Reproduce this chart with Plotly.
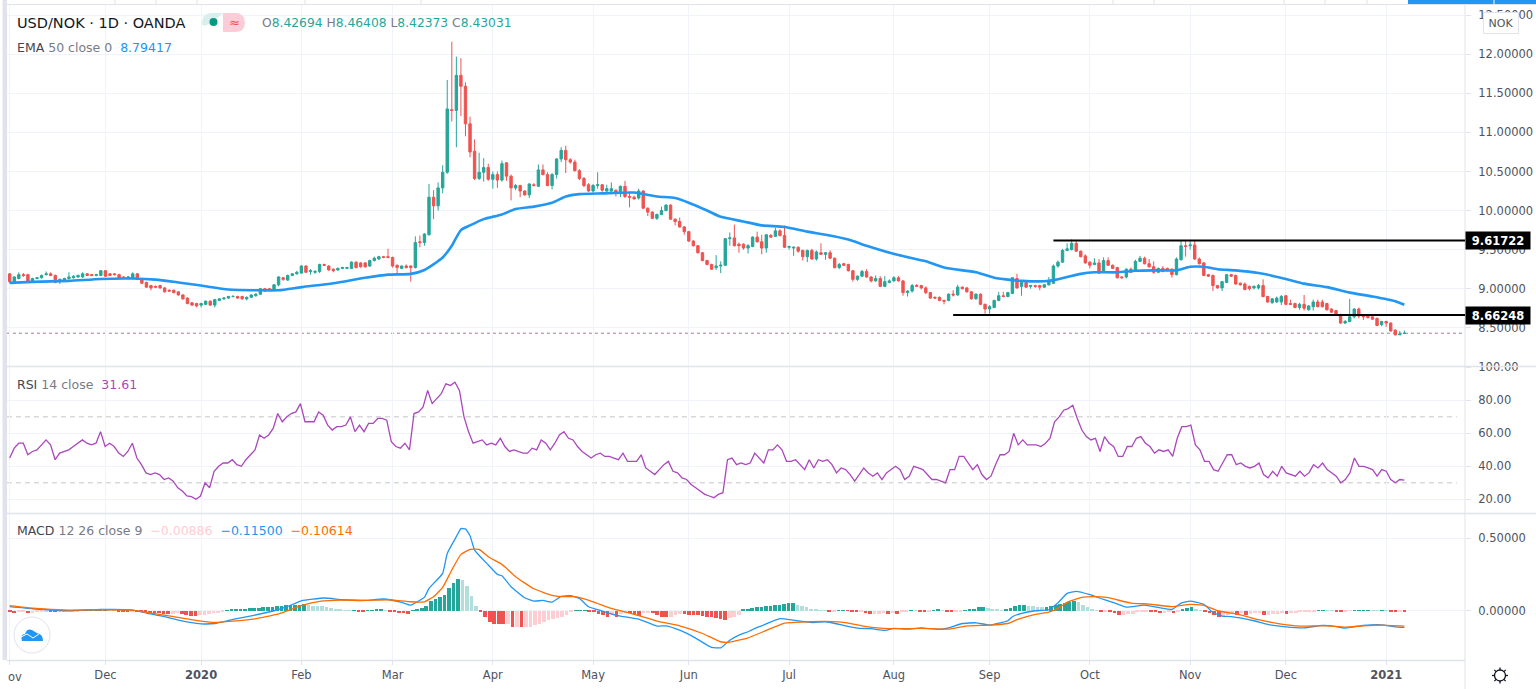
import numpy as np
import plotly.graph_objects as go

W, H = 1536, 689
FONT = "DejaVu Sans"

opens = [9.19,9.07,9.13,9.18,9.18,9.10,9.13,9.14,9.18,9.19,
9.17,9.09,9.11,9.13,9.14,9.15,9.15,9.19,9.18,9.17,
9.17,9.23,9.19,9.19,9.18,9.15,9.14,9.13,9.19,9.12,
9.08,9.04,9.03,9.04,9.01,8.98,8.98,8.96,8.92,8.88,
8.82,8.81,8.79,8.80,8.84,8.79,8.85,8.87,8.88,8.90,
8.90,8.90,8.87,8.89,8.91,8.93,9.00,9.00,8.98,9.05,
9.14,9.11,9.17,9.19,9.20,9.29,9.22,9.21,9.22,9.31,
9.29,9.25,9.24,9.26,9.26,9.26,9.34,9.33,9.33,9.29,
9.36,9.38,9.41,9.41,9.40,9.30,9.26,9.29,9.29,9.27,
9.60,9.59,9.69,10.17,10.06,10.29,10.49,11.29,11.28,11.73,
11.59,11.11,10.76,10.41,10.49,10.55,10.40,10.46,10.39,10.61,
10.44,10.29,10.32,10.25,10.20,10.33,10.31,10.52,10.46,10.32,
10.46,10.66,10.77,10.65,10.62,10.51,10.41,10.33,10.25,10.32,
10.33,10.25,10.25,10.26,10.22,10.31,10.18,10.17,10.16,10.25,
10.03,9.98,9.90,9.95,10.00,10.07,9.89,9.86,9.79,9.73,
9.61,9.55,9.46,9.36,9.31,9.27,9.29,9.30,9.64,9.65,
9.57,9.57,9.52,9.54,9.66,9.60,9.52,9.68,9.67,9.74,
9.68,9.53,9.52,9.53,9.49,9.41,9.49,9.38,9.46,9.44,
9.46,9.39,9.27,9.32,9.31,9.23,9.12,9.16,9.22,9.15,
9.10,9.13,9.03,9.08,9.10,9.14,9.10,8.95,8.97,9.04,
9.04,9.01,8.95,8.89,8.89,8.85,8.85,8.93,8.92,9.02,
9.01,8.96,8.87,8.93,8.80,8.74,8.76,8.85,8.91,8.90,
8.94,9.13,9.03,9.08,9.03,9.04,9.04,9.02,9.05,9.07,
9.29,9.34,9.49,9.50,9.58,9.48,9.42,9.34,9.31,9.33,
9.21,9.36,9.30,9.27,9.15,9.15,9.25,9.24,9.35,9.39,
9.32,9.28,9.21,9.26,9.26,9.25,9.18,9.37,9.55,9.55,
9.56,9.38,9.33,9.18,9.17,9.04,9.01,9.08,9.18,9.17,
9.07,9.06,9.03,9.01,9.01,9.04,8.90,8.82,8.83,8.83,
8.91,8.81,8.81,8.76,8.80,8.73,8.77,8.83,8.83,8.81,
8.74,8.72,8.67,8.56,8.58,8.64,8.74,8.66,8.65,8.64,
8.62,8.54,8.58,8.56,8.47,8.41,8.42694]

highs = [9.20,9.16,9.21,9.20,9.19,9.14,9.15,9.18,9.22,9.21,
9.18,9.13,9.14,9.21,9.17,9.18,9.21,9.20,9.19,9.19,
9.24,9.24,9.20,9.20,9.19,9.16,9.16,9.21,9.20,9.13,
9.09,9.05,9.04,9.05,9.02,8.99,8.99,8.97,8.93,8.89,
8.83,8.82,8.82,8.85,8.85,8.87,8.88,8.89,8.91,8.92,
8.91,8.91,8.90,8.93,8.94,9.01,9.01,9.01,9.06,9.16,
9.15,9.18,9.20,9.23,9.30,9.30,9.25,9.24,9.32,9.32,
9.30,9.26,9.27,9.28,9.28,9.35,9.35,9.34,9.34,9.37,
9.41,9.42,9.42,9.51,9.41,9.31,9.30,9.31,9.30,9.67,
9.68,9.71,10.34,10.26,10.36,10.58,11.67,12.16,11.97,11.95,
11.64,11.20,10.91,10.74,10.67,10.60,10.50,10.50,10.64,10.62,
10.46,10.34,10.33,10.26,10.35,10.35,10.59,10.59,10.49,10.48,
10.67,10.81,10.83,10.67,10.65,10.53,10.43,10.35,10.34,10.49,
10.34,10.33,10.36,10.27,10.32,10.38,10.24,10.19,10.28,10.26,
10.04,9.99,9.96,10.05,10.08,10.08,9.90,9.91,9.80,9.74,
9.62,9.56,9.47,9.37,9.32,9.43,9.35,9.65,9.72,9.82,
9.59,9.58,9.57,9.67,9.73,9.69,9.70,9.70,9.78,9.76,
9.81,9.55,9.54,9.54,9.50,9.50,9.51,9.49,9.58,9.47,
9.49,9.40,9.33,9.33,9.32,9.24,9.17,9.24,9.25,9.16,
9.17,9.16,9.16,9.12,9.16,9.16,9.11,8.98,9.06,9.06,
9.05,9.03,8.96,8.90,8.90,8.86,8.94,8.98,9.05,9.03,
9.02,8.97,8.94,8.94,8.81,8.79,8.86,8.96,8.96,8.96,
9.15,9.19,9.09,9.09,9.05,9.05,9.05,9.06,9.15,9.31,
9.36,9.51,9.58,9.63,9.62,9.49,9.44,9.35,9.39,9.38,
9.40,9.40,9.31,9.28,9.16,9.26,9.27,9.37,9.42,9.41,
9.38,9.35,9.27,9.29,9.27,9.26,9.40,9.62,9.62,9.62,
9.62,9.40,9.34,9.19,9.18,9.05,9.10,9.19,9.19,9.18,
9.08,9.08,9.04,9.04,9.06,9.12,8.91,8.88,8.90,8.92,
8.92,8.86,8.82,8.82,8.92,8.79,8.86,8.86,8.86,8.82,
8.75,8.73,8.68,8.60,8.87,8.75,8.76,8.67,8.67,8.65,
8.63,8.59,8.59,8.57,8.48,8.46,8.46408]

lows = [9.07,9.06,9.12,9.15,9.08,9.09,9.12,9.13,9.17,9.16,
9.07,9.06,9.10,9.12,9.13,9.14,9.14,9.16,9.16,9.16,
9.16,9.15,9.16,9.17,9.13,9.13,9.13,9.12,9.11,9.06,
9.01,8.98,9.01,9.00,8.95,8.96,8.94,8.91,8.86,8.80,
8.78,8.76,8.76,8.79,8.78,8.76,8.84,8.86,8.87,8.89,
8.87,8.86,8.85,8.88,8.90,8.92,8.96,8.97,8.97,9.03,
9.10,9.10,9.16,9.18,9.19,9.20,9.18,9.19,9.20,9.29,
9.23,9.21,9.23,9.25,9.25,9.25,9.26,9.27,9.27,9.28,
9.35,9.37,9.39,9.39,9.27,9.19,9.25,9.26,9.09,9.26,
9.53,9.55,9.68,9.89,10.00,10.22,10.47,11.14,10.81,11.21,
10.95,10.68,10.39,10.39,10.37,10.38,10.28,10.29,10.37,10.38,
10.13,10.26,10.17,10.19,10.16,10.31,10.30,10.45,10.31,10.27,
10.41,10.62,10.48,10.60,10.50,10.39,10.30,10.24,10.23,10.28,
10.24,10.24,10.24,10.18,10.17,10.16,10.04,10.14,10.14,10.02,
9.93,9.89,9.88,9.94,9.99,9.88,9.81,9.78,9.69,9.60,
9.54,9.45,9.35,9.30,9.24,9.24,9.20,9.29,9.55,9.54,
9.46,9.50,9.45,9.53,9.59,9.44,9.46,9.65,9.66,9.67,
9.52,9.50,9.42,9.46,9.36,9.34,9.37,9.36,9.43,9.37,
9.38,9.26,9.25,9.29,9.22,9.09,9.10,9.15,9.14,9.08,
9.09,9.02,9.02,9.07,9.09,9.09,8.91,8.90,8.95,9.02,
8.99,8.93,8.87,8.87,8.84,8.80,8.84,8.90,8.91,8.99,
8.95,8.86,8.86,8.79,8.68,8.68,8.75,8.84,8.89,8.89,
8.93,9.00,8.91,9.01,9.00,9.01,8.98,9.01,9.04,9.06,
9.27,9.33,9.48,9.49,9.47,9.40,9.32,9.26,9.30,9.19,
9.20,9.29,9.25,9.13,9.13,9.13,9.20,9.23,9.34,9.31,
9.27,9.19,9.20,9.21,9.22,9.14,9.17,9.36,9.41,9.50,
9.37,9.31,9.16,9.15,8.97,9.00,8.97,9.07,9.15,9.05,
9.04,8.98,8.98,8.99,8.99,8.89,8.82,8.81,8.82,8.79,
8.79,8.79,8.75,8.73,8.72,8.72,8.72,8.76,8.76,8.72,
8.69,8.66,8.55,8.55,8.57,8.62,8.62,8.60,8.62,8.60,
8.52,8.52,8.51,8.45,8.40,8.41,8.42373]

closes = [9.09,9.15,9.18,9.17,9.10,9.13,9.14,9.17,9.19,9.17,
9.08,9.12,9.13,9.15,9.16,9.17,9.19,9.17,9.17,9.18,
9.23,9.16,9.17,9.18,9.14,9.14,9.15,9.19,9.12,9.07,
9.02,9.01,9.02,9.01,8.96,8.97,8.95,8.92,8.87,8.81,
8.79,8.78,8.81,8.84,8.79,8.86,8.87,8.88,8.90,8.90,
8.88,8.87,8.89,8.92,8.93,9.00,8.97,8.98,9.05,9.15,
9.12,9.17,9.19,9.21,9.29,9.21,9.23,9.22,9.31,9.30,
9.24,9.23,9.26,9.27,9.27,9.34,9.27,9.28,9.28,9.36,
9.39,9.41,9.40,9.40,9.29,9.27,9.29,9.27,9.27,9.59,
9.59,9.70,10.17,10.06,10.29,10.49,11.30,11.28,11.73,11.59,
11.11,10.75,10.41,10.49,10.55,10.40,10.46,10.39,10.60,10.44,
10.29,10.32,10.25,10.20,10.34,10.32,10.52,10.46,10.32,10.46,
10.66,10.77,10.65,10.62,10.51,10.41,10.32,10.25,10.32,10.33,
10.26,10.28,10.28,10.22,10.31,10.18,10.17,10.15,10.25,10.03,
9.98,9.90,9.95,10.00,10.07,9.89,9.86,9.79,9.73,9.61,
9.55,9.46,9.36,9.31,9.25,9.29,9.30,9.64,9.65,9.55,
9.55,9.52,9.55,9.66,9.60,9.52,9.69,9.66,9.74,9.68,
9.53,9.54,9.53,9.48,9.41,9.49,9.38,9.47,9.44,9.46,
9.39,9.27,9.31,9.30,9.23,9.12,9.16,9.22,9.15,9.10,
9.13,9.03,9.09,9.10,9.14,9.10,8.95,8.97,9.04,9.03,
9.01,8.95,8.88,8.88,8.85,8.84,8.93,8.92,9.02,9.00,
8.96,8.87,8.93,8.80,8.74,8.77,8.85,8.91,8.90,8.95,
9.14,9.01,9.08,9.02,9.04,9.03,9.02,9.05,9.09,9.29,
9.34,9.49,9.51,9.58,9.48,9.41,9.33,9.30,9.33,9.20,
9.36,9.30,9.26,9.14,9.14,9.25,9.21,9.35,9.39,9.32,
9.28,9.21,9.26,9.22,9.24,9.18,9.38,9.55,9.54,9.56,
9.38,9.32,9.17,9.16,9.04,9.01,9.09,9.18,9.16,9.06,
9.05,8.99,9.00,9.03,9.04,8.90,8.83,8.87,8.88,8.90,
8.80,8.80,8.76,8.80,8.75,8.78,8.83,8.77,8.77,8.73,
8.70,8.67,8.56,8.58,8.64,8.74,8.65,8.64,8.63,8.61,
8.53,8.58,8.56,8.46,8.41,8.42,8.43031]

ema_bars = [0,5,13,20,27,32,37,42,48,54,59,64,71,78,83,88,91,95,97,99,101,104,108,
111,115,119,122,125,130,137,142,146,149,153,156,161,165,170,175,179,184,188,195,201,205,212,216,220,
222,227,229,232,235,238,243,247,251,256,259,262,265,269,274,280,284,289,294,299,304,306]
ema_vals = [9.074,9.087,9.10,9.125,9.13,9.116,9.08,9.04,8.99,8.98,8.98,9.02,9.07,9.14,9.18,9.19,9.24,9.40,9.55,9.75,9.81,9.89,9.95,
10.02,10.05,10.10,10.18,10.21,10.22,10.23,10.18,10.16,10.10,10.0,9.92,9.86,9.81,9.79,9.73,9.69,9.63,9.55,9.43,9.35,9.27,9.21,9.14,9.11,
9.10,9.095,9.11,9.15,9.19,9.21,9.21,9.23,9.235,9.235,9.28,9.28,9.25,9.235,9.20,9.125,9.065,9.02,8.95,8.90,8.84,8.794]

rsi_vals = [45,51,54,54,47,49,50,53,56,53,44,48,49,50,52,54,56,54,53,54,61,52,54,52,48,46,49,54,45,41,
36,35,36,35,32,33,31,27,25,22,21.6,20,22,30,27,37,40,42,42,44,41,40,44,47,50,59,57,59,63,72,
67,70,72,73,78,67,67,67,73,71,65,62,64,64,65,70,61,65,61,66,66,69,69,68,55,52,51,54,50,72,
73,76,86,78,81,84,90,89,91,86,70,61,54,55,56,53,54,53,57,52,49,50,49,
48,48,51,50,56,54,50,54,59,61,57,56,52,49,47,45,47,48,46,46,45,44,48,43,43,43,47,39,37,35,
38,41,43,37,36,33,32,29,27,25,23,22,21,23,24,44,45,41,42,41,42,48,45,42,50,50,53,50,43,43,
44,41,38,44,39,44,43,44,41,36,39,38,35,31,35,39,36,34,36,32,36,38,40,38,32,34,40,39,38,35,
32,32,31,30,38,38,46,46,42,38,41,35,32,34,41,47,47,49,60,53,
56,53,53,53,52,54,57,67,70,74,75,77,69,62,58,56,57,49,58,54,52,46,46,52,52,57,58,54,52,48,
50,49,50,46,57,64,64,65,53,50,43,43,38,37,42,47,47,41,42,40,39,40,42,35,33,37,34,40,36,35,
34,37,34,36,41,39,42,38,36,34,30,32,36,45,40,40,39,38,34,38,37,32,30,32,31.61]

macd_bars = [0,5,13,20,27,30,34,37,42,45,49,53,58,61,64,69,73,78,82,86,88,91,92,95,96,98,99,100,101,102,105,107,108,
110,113,115,117,119,121,123,125,127,130,133,137,138,142,144,147,150,153,154,156,158,160,162,164,165,169,172,176,179,182,186,189,192,194,197,200,204,206,209,212,215,219,
220,222,225,228,230,232,234,237,240,242,245,249,252,255,257,259,262,264,266,268,273,276,280,284,288,290,293,297,301,304,306]
macd_vals = [.028,.014,0,.009,.005,-.016,-.041,-.065,-.090,-.088,-.060,-.035,0,.030,.069,.088,.076,.071,.081,.058,.039,.094,.154,.258,.396,.512,.567,.565,.518,.419,.316,.251,.242,
.166,.090,.067,.071,.060,.099,.104,.085,.028,-.002,-.030,-.053,-.058,-.106,-.104,-.134,-.180,-.237,-.253,-.256,-.203,-.168,-.145,-.115,-.104,-.055,-.065,-.081,-.076,-.094,-.120,-.124,-.136,-.122,-.127,-.118,-.129,-.118,-.088,-.083,-.099,-.069,
-.041,-.018,0,.007,.055,.120,.134,.111,.078,.058,.025,.039,.023,.009,.053,.067,.044,-.012,-.037,-.041,-.069,-.094,-.111,-.118,-.101,-.104,-.120,-.101,-.097,-.111,-.115]

signal_bars = [0,5,13,20,27,31,36,42,45,53,59,64,68,73,78,83,88,91,93,95,97,99,101,103,105,108,109,111,
115,119,121,124,128,132,137,142,147,152,156,158,162,166,170,175,179,184,187,191,195,200,206,210,215,219,
221,225,228,230,232,235,238,241,246,250,255,259,262,265,270,274,279,283,289,293,297,301,306]
signal_vals = [.035,.018,.005,.007,.005,-.016,-.041,-.072,-.081,-.060,-.021,.035,.065,.074,.071,.076,.062,.062,.097,.161,.281,.389,.424,.424,.373,.32,.293,.235,
.152,.106,.097,.097,.062,.016,-.025,-.071,-.104,-.157,-.214,-.217,-.187,-.136,-.085,-.076,-.074,-.085,-.104,-.120,-.124,-.122,-.127,-.104,-.099,-.088,
-.062,-.025,-.009,.016,.058,.090,.097,.090,.053,.046,.028,.044,.037,0,-.028,-.062,-.092,-.106,-.104,-.113,-.104,-.099,-.10614]

hist_vals = [-.01,-.015,-.005,-.002,-.014,-.014,-.004,-.003,-.003,-.004,-.012,-.008,-.004,-.003,-.002,-.002,-.001,.002,.002,.003,
.003,.003,.002,.001,-.003,-.006,-.008,-.002,-.003,-.008,-.012,-.014,-.016,-.018,-.020,-.022,-.020,-.018,-.025,-.030,
-.033,-.036,-.030,-.026,-.022,-.018,-.014,-.008,.004,.008,.012,.012,.012,.016,.018,.022,.024,.025,.026,.032,
.036,.037,.038,.040,.042,.045,.040,.034,.032,.030,.026,.020,.014,.008,.004,.002,.002,-.002,-.008,.002,
.004,.006,.010,.002,-.006,-.010,-.014,-.018,-.024,.002,.012,.022,.032,.065,.078,.092,.11,.155,.195,.22,
.215,.17,.10,.03,-.012,-.045,-.075,-.088,-.09,
-.094,-.094,-.110,-.110,-.112,-.112,-.110,-.095,-.088,-.075,-.065,-.055,-.048,-.045,-.030,-.012,.002,.003,.004,-.006,
-.012,-.020,-.030,-.042,-.032,-.045,-.020,-.015,-.018,-.020,-.036,-.015,-.015,-.016,-.030,-.040,-.042,-.040,-.030,-.020,
-.024,-.026,-.028,-.030,-.036,-.042,-.046,-.052,-.060,-.062,-.052,-.040,-.030,.008,.015,.020,.025,.028,.032,.035,
.040,.040,.050,.052,.055,.040,.035,.025,.015,.012,.005,.003,-.006,-.002,.002,.003,-.001,-.010,-.012,-.012,
-.015,-.025,-.020,-.020,-.015,-.020,-.015,-.020,-.012,-.004,.003,.002,-.004,-.005,-.002,.003,.008,.002,-.003,-.008,
-.008,-.008,.002,.008,.015,.025,.025,.020,.015,.008,.002,.012,.020,.035,.040,.042,
.035,.03,.028,.024,.024,.03,.04,.05,.055,.06,.065,.06,.04,.025,.01,.002,-.01,-.006,-.012,-.015,
-.03,-.03,-.025,-.022,-.012,-.005,-.003,-.008,-.012,-.015,-.014,-.012,-.018,-.01,.012,.022,.025,.012,.004,-.008,
-.018,-.03,-.045,-.035,-.028,-.022,-.028,-.015,-.03,-.02,-.018,-.016,-.03,-.03,-.022,-.02,-.018,-.025,-.014,-.014,
-.012,-.012,-.008,-.004,.002,.004,.002,.001,-.003,-.008,-.008,-.001,.002,.004,.005,.005,.004,.001,.003,.001,
-.006,-.008,-.008,-.00886]

time_positions = [21,42,64,84,106,128,149,171,194,215,237,259,280,302]
time_labels = ["Dec","<b>2020</b>","Feb","Mar","Apr","May","Jun","Jul","Aug","Sep","Oct","Nov","Dec","<b>2021</b>"]
price_ticks = [8.5,9,9.5,10,10.5,11,11.5,12,12.5]
rsi_ticks = [20,40,60,80,100]
macd_ticks = [0,0.5]
rsi_bands = [70,30]
level_high, level_high_start = 9.61722, 229
level_low, level_low_start = 8.66248, 207
last_close = closes[-1]

GREEN, RED = "#26a69a", "#ef5350"
GRID, BORDER = "#f0f3fa", "#e0e3eb"
TEXT = "#50535e"
BLUE, ORANGE, PURPLE = "#2196f3", "#ff6d00", "#ab47bc"

n = len(closes)
bars = list(range(n))
rsi_x = np.linspace(0, n - 1, len(rsi_vals))
hist_x = np.linspace(0, n - 1, len(hist_vals))

hist_colors = []
prev = 0
for v in hist_vals:
    if v >= 0:
        hist_colors.append(GREEN if v >= prev else "#b2dfdb")
    else:
        hist_colors.append("#ffcdd2" if v >= prev else RED)
    prev = v

def pxx(p): return p / W
def pxy(p): return 1 - p / H

fig = go.Figure()
fig.add_trace(go.Candlestick(x=bars, open=opens, high=highs, low=lows, close=closes,
    increasing=dict(line=dict(color=GREEN, width=1), fillcolor=GREEN),
    decreasing=dict(line=dict(color=RED, width=1), fillcolor=RED),
    whiskerwidth=0, hoverinfo="skip", yaxis="y", xaxis="x", showlegend=False))
fig.add_trace(go.Scatter(x=ema_bars, y=ema_vals, mode="lines", line=dict(color=BLUE, width=2.6, shape="spline", smoothing=0.6),
    yaxis="y", xaxis="x", hoverinfo="skip", showlegend=False))
fig.add_trace(go.Scatter(x=rsi_x, y=rsi_vals, mode="lines", line=dict(color=PURPLE, width=1.3),
    yaxis="y2", xaxis="x", hoverinfo="skip", showlegend=False))
fig.add_trace(go.Bar(x=hist_x, y=hist_vals, marker=dict(color=hist_colors, line=dict(width=0)), width=0.8,
    yaxis="y3", xaxis="x", hoverinfo="skip", showlegend=False))
fig.add_trace(go.Scatter(x=macd_bars, y=macd_vals, mode="lines", line=dict(color=BLUE, width=1.3, shape="spline", smoothing=0.4),
    yaxis="y3", xaxis="x", hoverinfo="skip", showlegend=False))
fig.add_trace(go.Scatter(x=signal_bars, y=signal_vals, mode="lines", line=dict(color=ORANGE, width=1.3, shape="spline", smoothing=0.4),
    yaxis="y3", xaxis="x", hoverinfo="skip", showlegend=False))

shapes = []
def rect(x0, y0, x1, y1, color):
    shapes.append(dict(type="rect", xref="paper", yref="paper", x0=pxx(x0), x1=pxx(x1), y0=pxy(y0), y1=pxy(y1),
                       fillcolor=color, line=dict(width=0), layer="above"))
def seg(x0, y0, x1, y1, color, width=1):
    shapes.append(dict(type="line", xref="paper", yref="paper", x0=pxx(x0), x1=pxx(x1), y0=pxy(y0), y1=pxy(y1),
                       line=dict(color=color, width=width), layer="above"))
def path(points, fill=None, color=None, width=0):
    d = ""
    for cmd, pts in points:
        d += cmd + " ".join(f"{pxx(a):.5f},{pxy(b):.5f}" for a, b in pts) + " "
    shapes.append(dict(type="path", xref="paper", yref="paper", path=d, fillcolor=fill,
                       line=dict(color=color or "rgba(0,0,0,0)", width=width), layer="above"))
def circle(cx, cy, r, fill=None, color=None, width=0):
    shapes.append(dict(type="circle", xref="paper", yref="paper", x0=pxx(cx - r), x1=pxx(cx + r), y0=pxy(cy - r), y1=pxy(cy + r),
                       fillcolor=fill, line=dict(color=color or "rgba(0,0,0,0)", width=width), layer="above"))

# frame and pane separators
rect(2.5, 0, 7, 660, BORDER)
seg(7, 4.5, 1536, 4.5, BORDER)
seg(7, 366.5, 1536, 366.5, BORDER, 1.5)
seg(7, 513.5, 1536, 513.5, BORDER, 1.5)
seg(7, 660.5, 1465, 660.5, BORDER, 1.5)
seg(1465, 4, 1465, 689, BORDER, 1)
for t in [115, 156, 197, 305, 421, 1113, 1154, 1284, 1325, 1367]:
    seg(t, 0, t, 4, BORDER)
rect(1408, 0, 1536, 4, BLUE)
seg(1494, 0, 1494, 4, "#ffffff")

# last price and drawn levels
shapes.append(dict(type="line", xref="x", yref="y", x0=-0.6, x1=319.3, y0=last_close, y1=last_close,
                   line=dict(color="#a9789a", width=1, dash="dot"), layer="below"))
for lev, start in [(level_high, level_high_start), (level_low, level_low_start)]:
    shapes.append(dict(type="line", xref="x", yref="y", x0=start, x1=319.3, y0=lev, y1=lev,
                       line=dict(color="#000000", width=2), layer="above"))
for b in rsi_bands:
    shapes.append(dict(type="line", xref="x", yref="y2", x0=-0.6, x1=317.5, y0=b, y1=b,
                       line=dict(color="#c4c6cc", width=1, dash="5px,4px"), layer="below"))

# pill
path([("M", [(212, 13)]), ("L", [(223, 13), (223, 32), (212, 32)]), ("Q", [(202, 32), (202, 22.5)]), ("Q", [(202, 13), (212, 13)]), ("Z", [])], fill="#d8f0ed")
path([("M", [(223, 13)]), ("L", [(235, 13)]), ("Q", [(245, 13), (245, 22.5)]), ("Q", [(245, 32), (235, 32)]), ("L", [(223, 32)]), ("Z", [])], fill="#fbcdd8")
circle(213.5, 22, 4, fill="#089981")

# logo
circle(32, 635, 18, fill="#ffffff", color=BORDER, width=1)
path([("M", [(22, 641)]), ("Q", [(20, 634), (25, 634)]), ("Q", [(27, 628), (32, 630)]), ("Q", [(35, 632), (37, 633)]),
      ("Q", [(43, 634), (43, 641)]), ("Z", [])], fill=BLUE)
seg(21, 637, 27, 634, "#ffffff", 1)
seg(27, 634, 33, 638, "#ffffff", 1)
seg(33, 638, 39, 634, "#ffffff", 1)

# gear
circle(1500, 675.5, 5.5, color="#131722", width=1.3)
for a in range(0, 360, 45):
    ca, sa = np.cos(np.radians(a)), np.sin(np.radians(a))
    seg(1500 + 5.5 * ca, 675.5 + 5.5 * sa, 1500 + 8 * ca, 675.5 + 8 * sa, "#131722", 1.3)

ann = []
def label(x, y, text, size=12.5, color=TEXT, anchor="left", **kw):
    ann.append(dict(xref="paper", yref="paper", x=pxx(x), y=pxy(y), text=text, showarrow=False, xanchor=anchor, yanchor="middle",
                    font=dict(family=FONT, size=size, color=color), align="left", borderpad=0, **kw))

dk, md = "#434651", "#787b86"
label(16, 22.5, "USD/NOK · 1D · OANDA", size=14.5, color="#131722")
label(228, 22, "≈", size=13, color=RED)
t = "#26a69a"
label(261, 23, f"<span style='color:{md}'>O</span>8.42694 <span style='color:{md}'>H</span>8.46408 "
               f"<span style='color:{md}'>L</span>8.42373 <span style='color:{md}'>C</span>8.43031", size=12.3, color=t)
label(16, 47.5, f"<span style='color:{dk}'>EMA</span> 50 close 0  <span style='color:{BLUE}'>8.79417</span>", size=12.5, color=md)
label(16, 384, f"<span style='color:{dk}'>RSI</span> 14 close  <span style='color:{PURPLE}'>31.61</span>", size=12.5, color=md)
label(16, 530, f"<span style='color:{dk}'>MACD</span> 12 26 close 9  <span style='color:#ffcdd2'>−0.00886</span>  "
               f"<span style='color:{BLUE}'>−0.11500</span>  <span style='color:{ORANGE}'>−0.10614</span>", size=12.5, color=md)
label(7, 677, "ov", size=11.5)

for lev, txt in [(level_high, "9.61722"), (level_low, "8.66248")]:
    ann.append(dict(xref="paper", yref="y", x=pxx(1465), y=lev, text=f"<b>{txt}</b>", showarrow=False, xanchor="left", yanchor="middle",
                    font=dict(family=FONT, size=11.5, color="#ffffff"), bgcolor="#000000", width=64, height=17, borderpad=0))
ann.append(dict(xref="paper", yref="paper", x=pxx(1500.5), y=pxy(22.5), text="NOK", showarrow=False, xanchor="center", yanchor="middle",
                font=dict(family=FONT, size=11, color=TEXT), bgcolor="#ffffff", bordercolor=BORDER, borderwidth=1, width=32, height=18))

def axis_y(domain_px, rng, ticks, fmt):
    return dict(domain=[1 - domain_px[1] / H, 1 - domain_px[0] / H], range=rng, anchor="x", side="right",
                tickmode="array", tickvals=ticks, ticktext=[fmt.format(v) for v in ticks],
                showgrid=True, gridcolor=GRID, gridwidth=1, zeroline=False, showline=False,
                ticks="outside", ticklen=5, tickcolor=BORDER, ticklabelstandoff=5,
                tickfont=dict(family=FONT, size=11.5, color=TEXT), fixedrange=True)

fig.update_layout(
    width=W, height=H, autosize=False, margin=dict(l=0, r=0, t=0, b=0, autoexpand=False),
    paper_bgcolor="#ffffff", plot_bgcolor="#ffffff", showlegend=False, hovermode=False,
    barmode="overlay", boxgap=0.25, bargap=0,
    xaxis=dict(domain=[7 / W, 1465 / W], range=[-0.59, 319.3], anchor="y3", rangeslider=dict(visible=False),
               tickmode="array", tickvals=[0] + time_positions, ticktext=[""] + time_labels,
               showgrid=True, gridcolor=GRID, zeroline=False, showline=False, ticks="outside", ticklen=4, tickcolor=BORDER,
               tickfont=dict(family=FONT, size=11.5, color=TEXT), fixedrange=True, automargin=False),
    yaxis=axis_y((5, 366), [8.011, 12.63], price_ticks, "{:.5f}"),
    yaxis2=axis_y((367, 513), [11.7, 100.2], rsi_ticks, "{:.2f}"),
    yaxis3=axis_y((514, 660), [-0.340, 0.668], macd_ticks, "{:.5f}"),
    shapes=shapes, annotations=ann,
)
fig.write_html("out.html", config=dict(displayModeBar=False, responsive=False),
               post_script="document.body.style.margin='0';document.body.style.overflow='hidden';")
